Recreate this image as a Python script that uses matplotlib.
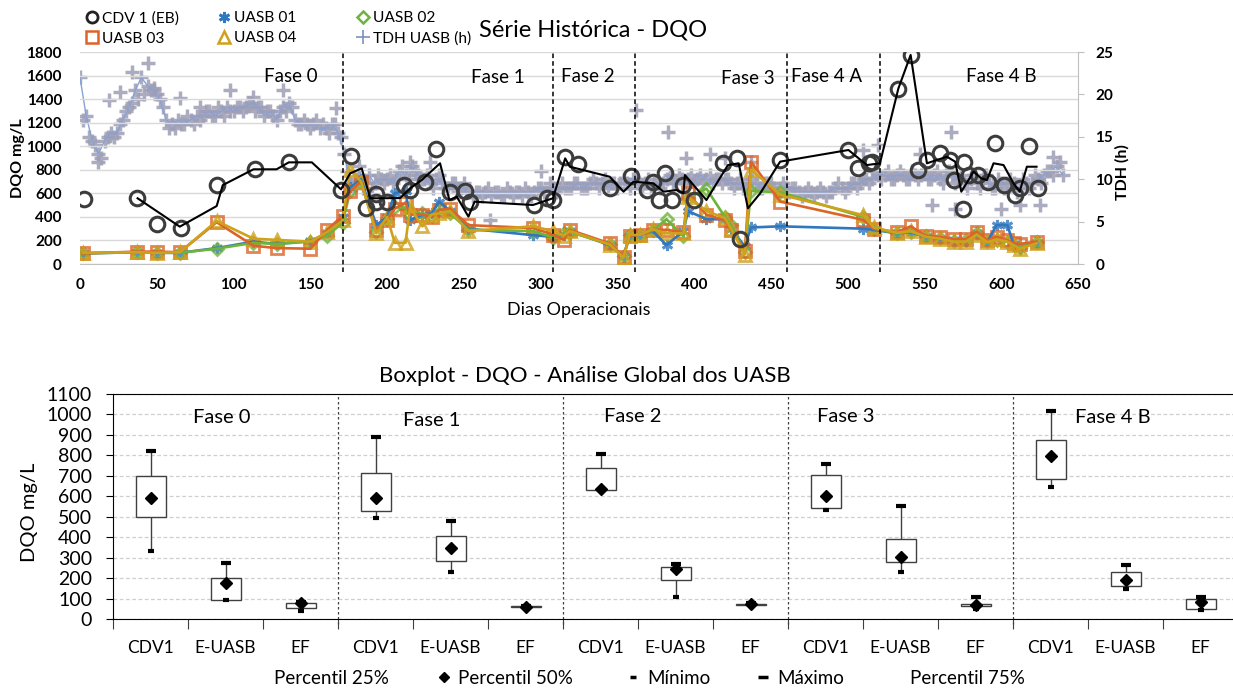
import matplotlib
matplotlib.use('Agg')
import matplotlib.pyplot as plt
from matplotlib.lines import Line2D

plt.rcParams['font.family'] = ['Lato', 'DejaVu Sans']

# ---------------- DATA: top chart ----------------
phase_bounds = [171.3, 308, 361.5, 460.5, 521]
phase_labels = ['Fase 0', 'Fase 1', 'Fase 2', 'Fase 3', 'Fase 4 A', 'Fase 4 B']
phase_label_x = [137, 272, 331, 435, 486, 600]
phase_label_y = [1590, 1585, 1590, 1573, 1590, 1590]

cdv_days = [2.6, 37, 50, 66, 89, 114, 136, 170, 176.5, 186, 192.6, 193, 200, 211, 215, 225, 232, 241,
            251, 254, 296, 304, 308, 316, 324.6, 345, 359, 369, 373.5, 377, 381, 385.5, 393, 399.6,
            419, 428, 430, 456, 500.5, 507, 513.6, 515.7, 533, 541, 546, 551.6, 560, 566.8, 569, 575,
            575.5, 578.7, 585, 591.7, 596, 601.5, 609, 612, 618, 624]
cdv_vals = [552, 560, 340, 306, 670, 806, 866, 628, 917, 478, 592, 529, 529, 671, 628, 699, 976, 608,
            620, 529, 501, 558, 543, 908, 849, 643, 747, 628, 699, 543, 770, 543, 670, 543,
            855, 897, 215, 883, 968, 812, 855, 869, 1490, 1775, 798, 883, 940, 883, 713, 464,
            869, 755, 755, 699, 1025, 670, 586, 643, 1002, 643]

cdv_trend_days = [37.5, 65, 89, 93, 113, 128, 136, 151, 170, 176, 183.5, 189, 195.5, 208.5, 215, 222.6,
                  234.5, 240.6, 245.4, 253, 257, 295, 308, 316, 319, 345, 354, 360.5, 373.5, 380, 388.7,
                  393, 394, 408, 422, 429, 435, 443, 456, 500.5, 512.5, 521, 533, 541, 551.6, 564.6,
                  570, 574, 582, 587, 590.7, 595, 601.5, 608, 612, 616.7, 623]
cdv_trend_vals = [558, 317, 492, 670, 804, 804, 863, 863, 634, 770, 812, 558, 558, 560, 643, 713,
                  855, 543, 571, 402, 529, 501, 558, 897, 826, 741, 614, 699, 685, 614, 628,
                  600, 755, 543, 840, 855, 473, 600, 869, 968, 840, 855, 1490, 1775, 855, 911,
                  869, 614, 784, 727, 713, 855, 840, 685, 614, 826, 826]

uasb_days = [2, 37, 50, 65, 89, 113, 128, 150, 161, 171, 176, 183, 193, 200, 205, 212, 215, 223, 229,
             234, 241, 253, 295, 308, 315, 319, 345, 354, 358, 365, 373, 382, 393, 396, 408, 420, 424,
             433, 437, 456, 510, 517, 532, 541, 551, 560, 569, 577, 584, 591, 597, 604, 608, 612, 623]
uasb01 = [90, 100, 95, 95, 135, 190, 170, 195, 260, 400, 650, 720, 330, 400, 600, 620, 370, 420, 430,
          530, 450, 300, 245, 230, 250, 280, 160, 65, 240, 250, 280, 160, 280, 450, 380, 380, 300,
          150, 310, 320, 300, 290, 260, 270, 230, 215, 200, 195, 260, 190, 330, 330, 170, 140, 180]
uasb02 = [90, 100, 95, 95, 130, 180, 170, 190, 240, 350, 620, 700, 270, 380, 480, 480, 420, 430, 410,
          470, 430, 290, 280, 225, 260, 270, 170, 65, 245, 250, 285, 380, 235, 560, 640, 400, 330,
          100, 620, 610, 400, 300, 260, 275, 235, 220, 195, 200, 265, 195, 200, 190, 160, 140, 185]
uasb03 = [90, 105, 105, 100, 355, 155, 135, 130, 290, 410, 620, 700, 290, 375, 470, 520, 420, 420, 400,
          460, 470, 330, 305, 250, 205, 290, 175, 62, 240, 250, 290, 290, 270, 600, 420, 370, 290,
          110, 870, 530, 375, 300, 270, 320, 240, 230, 210, 210, 275, 200, 230, 200, 180, 170, 190]
uasb04 = [95, 100, 95, 100, 365, 215, 205, 190, 270, 370, 800, 700, 260, 400, 180, 180, 480, 320, 420,
          430, 450, 280, 320, 280, 240, 280, 165, 55, 250, 250, 295, 260, 260, 570, 450, 390, 300,
          80, 800, 590, 415, 310, 265, 280, 230, 215, 190, 190, 250, 185, 210, 190, 160, 130, 175]

# TDH (h): readings every 4 days (line + markers) and the interleaved readings in between
tdh_days = list(range(0, 641, 4))
tdh_hours = [22.0, 17.5, 14.5, 13.0, 14.5, 15.5, 15.5, 17.0, 18.5, 20.5, 22.0, 21.0, 20.5, 19.5, 17.0,
             16.5, 17.0, 16.5, 17.0, 17.5, 17.5, 18.0, 17.5, 18.0, 18.5, 18.0, 18.5, 18.5, 19.0, 18.5,
             17.5, 18.0, 17.0, 18.5, 19.0, 17.0, 16.5, 16.5, 16.5, 16.0, 16.0, 16.5, 15.5, 13.0, 9.5,
             10.0, 9.0, 10.5, 9.5, 10.0, 10.0, 9.5, 11.0, 10.5, 11.5, 10.5, 10.0, 9.5, 10.0, 9.5,
             9.0, 9.5, 9.0, 8.5, 8.0, 8.5, 8.5, 8.0, 8.5, 8.0, 8.5, 8.5, 8.0, 8.5, 8.5, 9.0, 8.5, 9.0,
             9.0, 9.0, 9.0, 9.5, 9.0, 9.5, 9.5, 9.5, 9.0, 9.5, 9.5, 9.5, 10.0, 9.5, 9.5, 9.0, 9.5,
             9.5, 10.5, 9.5, 10.0, 10.0, 9.5, 10.5, 10.0, 9.5, 10.0, 10.0, 9.5, 9.5, 9.0, 9.5, 9.5,
             9.0, 9.5, 9.0, 9.0, 9.0, 9.0, 8.5, 8.5, 8.5, 8.5, 8.5, 8.5, 9.0, 9.0, 9.0, 9.5, 9.5,
             10.0, 10.0, 10.5, 10.5, 10.0, 10.5, 10.5, 10.0, 10.5, 10.5, 10.0, 10.5, 10.0, 10.5, 10.5,
             10.0, 9.5, 10.0, 9.5, 10.0, 9.5, 9.0, 9.5, 9.5, 9.5, 9.0, 9.5, 9.5, 10.0, 10.5, 11.0,
             11.5, 10.5]
tdh_mid_days = list(range(2, 639, 4))
tdh_mid_hours = [17.0, 15.0, 14.0, 12.5, 15.0, 15.0, 16.5, 18.0, 19.0, 19.5,
                 20.0, 20.5, 20.0, 18.5, 16.0, 16.0, 16.5, 17.5, 16.5, 17.0,
                 18.0, 17.5, 18.5, 17.5, 18.0, 18.5, 18.0, 19.0, 18.0, 18.5,
                 18.0, 17.5, 18.0, 18.0, 18.5, 16.5, 17.0, 16.0, 17.0, 16.5,
                 15.5, 16.5, 15.0,
                 11.0, 9.0, 10.5, 9.5, 9.0, 10.5, 9.5, 10.5, 10.0, 11.5,
                 10.0, 11.0, 10.0, 10.5, 9.0, 10.5, 9.0, 9.5, 8.5, 9.5,
                 8.5, 8.5, 8.0, 9.0, 8.5, 8.0, 9.0, 8.0, 8.5, 9.0,
                 8.0, 9.0, 8.5, 9.5, 8.5, 9.5, 9.0, 9.5, 9.0, 9.0,
                 10.0, 9.0, 10.0, 9.5, 9.0, 10.0, 9.0, 10.0, 9.0, 10.0,
                 9.5, 9.0, 10.0, 9.5, 10.5, 9.5, 10.5, 10.0, 9.5, 10.5,
                 10.0, 9.5, 10.0, 9.0, 10.0, 9.0, 10.0, 9.0, 9.5, 9.5,
                 8.5, 9.5, 8.5, 9.0, 8.0, 9.0, 8.0, 9.0, 8.0, 8.5,
                 9.5, 8.5, 9.5, 9.0, 10.0, 9.5, 11.0, 10.0, 11.0, 10.0,
                 11.0, 10.0, 11.0, 10.0, 11.0, 10.0, 11.0, 9.5, 11.0, 9.5,
                 10.5, 9.0, 10.5, 9.0, 10.5, 9.0, 10.0, 9.0, 10.0, 8.5,
                 10.0, 9.0, 10.5, 9.5, 11.0, 10.5, 12.0]
tdh_extra_days = [12, 19, 26, 34, 44, 48, 65, 78, 98, 113, 132, 167, 182, 215, 228, 267, 300, 362,
                  383, 395, 410, 420, 437, 510, 520, 547, 555, 567, 570, 600, 612, 625, 634]
tdh_extra_hours = [12.0, 19.3, 20.3, 22.6, 23.7, 20.8, 19.6, 18.5, 20.5, 19.7, 20.5, 18.4, 11.5, 12.0,
                   12.0, 5.2, 11.0, 18.2, 15.6, 12.5, 13.0, 12.5, 12.0, 13.5, 14.0, 13.0, 7.0, 15.6,
                   6.5, 6.5, 7.0, 7.0, 12.6]

# ---------------- DATA: boxplot ----------------
box_categories = ['CDV1', 'E-UASB', 'EF'] * 5
box_phases = ['Fase 0', 'Fase 1', 'Fase 2', 'Fase 3', 'Fase 4 B']
p25 = [500, 94, 52, 530, 282, 58, 631, 189, 70, 541, 279, 65, 686, 161, 50]
p50 = [590, 174, 77, 593, 345, 60, 634, 246, 73, 601, 305, 68, 798, 189, 85]
p75 = [700, 199, 80, 712, 404, 62, 740, 256, 75, 704, 390, 74, 875, 231, 99]
pmin = [332, 94, 41, 494, 230, 55, 631, 109, 68, 533, 231, 48, 644, 148, 45]
pmax = [823, 275, 82, 891, 481, 64, 807, 267, 77, 760, 554, 106, 1018, 264, 106]
box_phase_label_x = [1.45, 4.25, 6.93, 9.77, 13.33]
box_phase_label_y = [983, 968, 992, 992, 983]

# ---------------- FIGURE ----------------
W, H = 1233, 688
fig = plt.figure(figsize=(W / 100, H / 100), dpi=100)


def rect(l, t, r, b):
    return [l / W, 1 - b / H, (r - l) / W, (b - t) / H]


ax = fig.add_axes(rect(80, 52, 1078, 264))
ax2 = ax.twinx()
ax.set_zorder(ax2.get_zorder() + 1)
ax.patch.set_visible(False)

# TDH (right axis)
tdh_marker = dict(ls='none', marker='+', ms=9.5, mew=2.5, color='#9E9EB6', alpha=0.85, zorder=2)
ax2.plot(tdh_days, tdh_hours, **tdh_marker)
ax2.plot(tdh_mid_days, tdh_mid_hours, **tdh_marker)
ax2.plot(tdh_extra_days, tdh_extra_hours, **tdh_marker)
ax2.plot(tdh_days, tdh_hours, color='#87A2D6', lw=1.0, zorder=3)
ax2.set_ylim(0, 25)
ax2.set_yticks([0, 5, 10, 15, 20, 25])
ax2.tick_params(axis='y', length=4.5, color='#BFBFBF', pad=8, labelsize=11)
for t in ax2.get_yticklabels():
    t.set_fontweight('bold')
for s in ['left', 'top', 'bottom']:
    ax2.spines[s].set_visible(False)
ax2.spines['right'].set_color('#BFBFBF')

# UASB series
colors = {'u1': '#2F77BE', 'u2': '#6EB43C', 'u3': '#DC6428', 'u4': '#CFA21C'}
series = [(uasb01, colors['u1'], (6, 2, 0), 8, 'UASB 01'),
          (uasb02, colors['u2'], 'D', 6, 'UASB 02'),
          (uasb03, colors['u3'], 's', 9, 'UASB 03'),
          (uasb04, colors['u4'], '^', 8.5, 'UASB 04')]
for vals, c, m, ms, lab in series:
    ax.plot(uasb_days, vals, ls='none', marker=m, ms=ms, mfc='none', mec=c, mew=2, alpha=0.8, zorder=3)
for vals, c, m, ms, lab in series:
    ax.plot(uasb_days, vals, color=c, lw=1.9, zorder=4)

# CDV
ax.plot(cdv_days, cdv_vals, ls='none', marker='o', ms=10.5, mfc='none', mec='#3C3C3C', mew=2.2, zorder=5)
ax.plot(cdv_trend_days, cdv_trend_vals, color='black', lw=1.5, zorder=6)

ax.set_xlim(0, 650)
ax.set_ylim(0, 1800)
ax.set_xticks(range(0, 651, 50))
ax.set_yticks(range(0, 1801, 200))
ax.tick_params(axis='x', length=0, pad=10, labelsize=11)
ax.tick_params(axis='y', length=0, pad=13, labelsize=11)
for t in ax.get_xticklabels() + ax.get_yticklabels():
    t.set_fontweight('bold')
ax.grid(axis='y', color='#D9D9D9', lw=1)
ax.set_axisbelow(True)
for s in ['left', 'top', 'right']:
    ax.spines[s].set_visible(False)
ax.spines['bottom'].set_color('#BFBFBF')
ax.set_xlabel('Dias Operacionais', fontsize=13, labelpad=7)

for b in phase_bounds:
    ax.plot([b, b], [-70, 1790], ls=(0, (3, 2)), color='black', lw=1.1, clip_on=False, zorder=7)
for lab, x, y in zip(phase_labels, phase_label_x, phase_label_y):
    ax.text(x, y, lab, ha='center', va='center', fontsize=13.5)

fig.text(18 / W, 1 - 158 / H, 'DQO mg/L', rotation=90, ha='center', va='center', fontsize=11.5,
         fontweight='bold')
fig.text(1122 / W, 1 - 172 / H, 'TDH (h)', rotation=90, ha='center', va='center', fontsize=11.5,
         fontweight='bold')
fig.text(593 / W, 1 - 30 / H, 'Série Histórica - DQO', ha='center', va='center', fontsize=17)

# top legend (three columns of two rows)
h_cdv = Line2D([], [], ls='none', marker='o', ms=8, mfc='none', mec='#222222', mew=2)
h_u1 = Line2D([], [], ls='none', marker=(6, 2, 0), ms=8, mfc='none', mec=colors['u1'], mew=2)
h_u2 = Line2D([], [], ls='none', marker='D', ms=6, mfc='none', mec=colors['u2'], mew=1.8)
h_u3 = Line2D([], [], ls='none', marker='s', ms=8, mfc='none', mec=colors['u3'], mew=1.8)
h_u4 = Line2D([], [], ls='none', marker='^', ms=8, mfc='none', mec=colors['u4'], mew=1.8)
h_tdh = Line2D([], [], ls='none', marker='+', ms=10, mew=1.2, color='#7F8FBF')
leg_cols = [([h_cdv, h_u3], ['CDV 1 (EB)', 'UASB 03'], 86),
            ([h_u1, h_u4], ['UASB 01', 'UASB 04'], 218),
            ([h_u2, h_tdh], ['UASB 02', 'TDH UASB (h)'], 357)]
for hs, ls_, x in leg_cols:
    fig.legend(hs, ls_, loc='upper left', bbox_to_anchor=(x / W, 1 - 11 / H), frameon=False,
               fontsize=11.2, handlelength=0.8, handletextpad=0.25, labelspacing=0.4,
               borderpad=0, borderaxespad=0, numpoints=1)

# ---------------- BOXPLOT ----------------
axb = fig.add_axes(rect(113, 394, 1238, 619))
xc = [i + 0.5 for i in range(len(box_categories))]
heights = [q3 - q1 for q1, q3 in zip(p25, p75)]
axb.vlines(xc, pmin, p25, color='#404040', lw=1, zorder=3)
axb.vlines(xc, p75, pmax, color='#404040', lw=1, zorder=3)
axb.bar(xc, heights, bottom=p25, width=0.4, color='white', edgecolor='#404040', lw=1, zorder=4)
axb.plot(xc, pmax, ls='none', marker='_', ms=7, mew=3, color='black', zorder=5)
axb.plot(xc, pmin, ls='none', marker='_', ms=4.5, mew=3, color='black', zorder=5)
axb.plot(xc, p50, ls='none', marker='D', ms=6.5, color='black', zorder=6)

axb.set_xlim(0, 15)
axb.set_ylim(0, 1100)
axb.set_yticks(range(0, 1101, 100))
axb.set_xticks(range(0, 16))
axb.set_xticklabels([])
axb.set_xticks(xc, minor=True)
axb.set_xticklabels(box_categories, minor=True)
axb.tick_params(axis='x', which='major', length=7, direction='out', color='#404040')
axb.tick_params(axis='x', which='minor', length=0, pad=15, labelsize=12.5)
axb.tick_params(axis='y', length=5, direction='out', labelsize=14, pad=10)
axb.grid(axis='y', color='#CFCFCF', ls=(0, (3, 2)), lw=0.9)
axb.set_axisbelow(True)
for s in ['left', 'top', 'bottom', 'right']:
    axb.spines[s].set_color('black')
for b in [3, 6, 9, 12]:
    axb.plot([b, b], [-25, 1100], ls=(0, (2, 2)), color='#404040', lw=0.9, clip_on=False, zorder=2)
for lab, x, y in zip(box_phases, box_phase_label_x, box_phase_label_y):
    axb.text(x, y, lab, ha='center', va='center', fontsize=14.5)

fig.text(30 / W, 1 - 512 / H, 'DQO mg/L', rotation=90, ha='center', va='center', fontsize=14.5)
fig.text(585 / W, 1 - 376 / H, 'Boxplot - DQO - Análise Global dos UASB', ha='center', va='center',
         fontsize=16)

# bottom legend
h_none = Line2D([], [], ls='none', marker='')
h_p50 = Line2D([], [], ls='none', marker='D', ms=5, color='black')
h_min = Line2D([], [], ls='none', marker='_', ms=4, mew=2.5, color='black')
h_max = Line2D([], [], ls='none', marker='_', ms=7, mew=2.5, color='black')
bottom_leg = [(h_none, 'Percentil 25%', 252), (h_p50, 'Percentil 50%', 436), (h_min, 'Mínimo', 625),
              (h_max, 'Máximo', 755), (h_none, 'Percentil 75%', 888)]
for h, lab, x in bottom_leg:
    fig.legend([h], [lab], loc='center left', bbox_to_anchor=(x / W, 1 - 678 / H), frameon=False,
               fontsize=13.5, handlelength=0.8, handletextpad=0.4, borderpad=0, borderaxespad=0,
               numpoints=1)

fig.savefig('out.png', dpi=100)
